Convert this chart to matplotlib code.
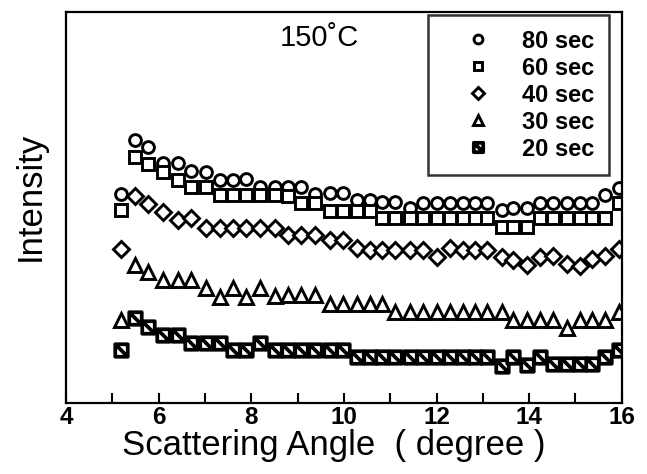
import numpy as np
import matplotlib
matplotlib.use("Agg")
import matplotlib.pyplot as plt
from matplotlib.path import Path

plt.rcParams['font.family'] = ['Liberation Sans', 'DejaVu Sans']

# scattering angle (degree), shared by all curves
angle = [5.19, 5.49, 5.77, 6.09, 6.42, 6.70, 7.02, 7.32, 7.60, 7.89,
         8.19, 8.51, 8.79, 9.07, 9.37, 9.70, 9.98, 10.28, 10.56, 10.82,
         11.10, 11.42, 11.71, 12.01, 12.29, 12.57, 12.83, 13.09, 13.41, 13.65,
         13.95, 14.23, 14.51, 14.81, 15.09, 15.35, 15.63, 15.93]

# intensity (arb. units), offset curves
i80 = [209, 263, 256, 240, 240, 232, 231, 223, 223, 224, 216, 216, 216, 216, 209, 210, 210, 203, 203,
       201, 201, 195, 200, 200, 200, 200, 200, 200, 193, 195, 195, 200, 200, 200, 200, 200, 208, 215]
i60 = [193, 246, 239, 231, 223, 216, 216, 208, 208, 208, 208, 208, 207, 200, 200, 192, 192, 192, 192,
       185, 185, 185, 185, 185, 185, 185, 185, 185, 176, 176, 176, 185, 185, 185, 185, 185, 185, 200]
i40 = [154, 207, 199, 191, 183, 185, 175, 175, 175, 175, 175, 175, 168, 168, 168, 163, 163, 155, 153,
       153, 153, 153, 153, 146, 155, 153, 153, 153, 146, 143, 138, 146, 147, 139, 137, 144, 147, 154]
i30 = [83, 138, 131, 123, 123, 123, 115, 106, 115, 106, 115, 107, 108, 108, 108, 99, 99, 99, 99,
       99, 91, 91, 91, 91, 91, 91, 91, 91, 91, 83, 83, 83, 83, 75, 83, 83, 83, 91]
i20 = [53, 85, 76, 68, 68, 60, 60, 60, 53, 53, 60, 53, 53, 53, 53, 53, 53, 46, 46,
       46, 46, 46, 46, 46, 46, 46, 46, 46, 37, 46, 38, 46, 39, 39, 39, 39, 46, 53]

labels = ['80 sec', '60 sec', '40 sec', '30 sec', '20 sec']

# square with a diagonal stroke, for the hatched marker
hatch_sq = Path([(-1, -1), (1, -1), (1, 1), (-1, 1), (-1, -1), (-1, 1), (1, -1)],
                [Path.MOVETO, Path.LINETO, Path.LINETO, Path.LINETO, Path.CLOSEPOLY,
                 Path.MOVETO, Path.LINETO])

fig = plt.figure(figsize=(6.47, 4.74), dpi=100)
ax = fig.add_axes([0.102, 0.150, 0.859, 0.825])

kw = dict(linestyle='none', color='black', markerfacecolor='white', markeredgewidth=2.1)
ax.plot(angle, i80, marker='o', markersize=8.5, label=labels[0], **kw)
ax.plot(angle, i60, marker='s', markersize=8.5, label=labels[1], **kw)
ax.plot(angle, i40, marker='D', markersize=8, label=labels[2], **kw)
ax.plot(angle, i30, marker='^', markersize=10, label=labels[3], **kw)
ax.plot(angle, i20, marker=hatch_sq, markersize=9, linestyle='none', color='black',
        markerfacecolor='white', markeredgewidth=2.7, label=labels[4])

ax.set_xlim(4, 16)
ax.set_ylim(0, 391)
ax.set_xticks([4, 6, 8, 10, 12, 14, 16])
ax.set_xticks(np.arange(5, 16, 2), minor=True)
ax.set_yticks([])
ax.tick_params(axis='x', which='both', direction='in', length=7, width=1.5, pad=2,
               labelsize=17.5)
for t in ax.get_xticklabels():
    t.set_fontweight('bold')
for s in ax.spines.values():
    s.set_linewidth(1.6)

ax.set_xlabel('Scattering Angle  ( degree )', fontsize=25, va='baseline')
ax.xaxis.set_label_coords(0.481, -0.133)
ax.set_ylabel('Intensity', fontsize=25, va='center')
ax.yaxis.set_label_coords(-0.064, 0.529)
ax.text(0.456, 0.932, '150˚C', transform=ax.transAxes, fontsize=21,
        ha='center', va='center')

leg = ax.legend(loc='upper right', bbox_to_anchor=(0.977, 0.992), borderaxespad=0,
                frameon=True, fancybox=False, edgecolor='black', fontsize=17,
                markerscale=0.75, handletextpad=0.36, labelspacing=0.17,
                borderpad=0.62, handlelength=3.0)
leg.get_frame().set_linewidth(1.8)
for t in leg.get_texts():
    t.set_fontweight('bold')

fig.savefig('out.png', dpi=100)
